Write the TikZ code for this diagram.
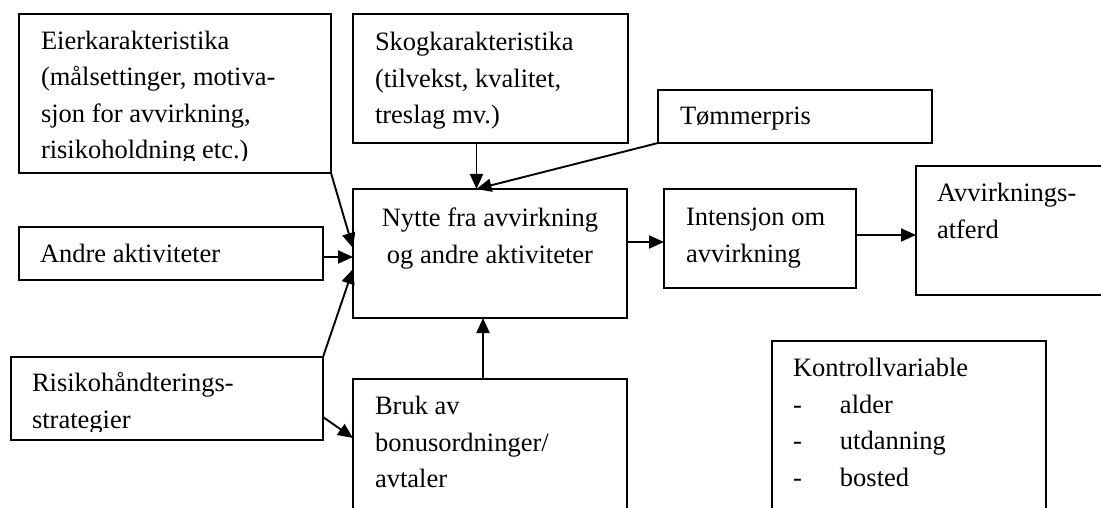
\documentclass[tikz,border=0pt]{standalone}
\usepackage{fontspec}
\setmainfont{Liberation Serif}
\usetikzlibrary{arrows.meta,calc}
\begin{document}
\begin{tikzpicture}[x=1pt,y=-1pt,
 box/.style={draw, line width=1.9pt, inner sep=0pt, outer sep=0pt, anchor=north west},
 txt/.style={inner sep=0pt, outer sep=0pt, anchor=north west, align=left, font=\fontsize{26.5}{36.4}\selectfont},
 arr/.style={line width=1.9pt, -{Triangle[length=15pt,width=13pt]}}]
\useasboundingbox (0,0) rectangle (1101,508);
\clip (0,0) rectangle (1101,508);
% boxes
\node[box, minimum width=312pt, minimum height=159pt] (eier) at (19,14) {};
\node[box, minimum width=275pt, minimum height=129pt] (skog) at (353,14) {};
\node[box, minimum width=274pt, minimum height=53pt] (tmr) at (658,90) {};
\node[box, minimum width=304pt, minimum height=53pt] (andre) at (19,227) {};
\node[box, minimum width=274pt, minimum height=129pt] (nytte) at (353,189) {};
\node[box, minimum width=192pt, minimum height=99pt] (int) at (664,189) {};
\node[box, minimum width=210pt, minimum height=129pt] (avv) at (916,166) {};
\node[box, minimum width=312pt, minimum height=83pt] (risiko) at (11,357) {};
\node[box, minimum width=274pt, minimum height=150pt] (bruk) at (353,379) {};
\node[box, minimum width=274pt, minimum height=190pt] (kontroll) at (772,341) {};
% texts
\begin{scope}
\clip (19,14) rectangle (331,161);
\node[txt] (eiert) at (41,24) {\strut Eierkarakteristika\\(målsettinger, motiva-\\sjon for avvirkning,\\risikoholdning etc.)};
\end{scope}
\node[txt] (skogt) at (375,25.5) {\strut Skogkarakteristika\\(tilvekst, kvalitet,\\treslag mv.)};
\node[txt] (tmrt) at (680,99.5) {\strut Tømmerpris};
\node[txt, anchor=north, align=center] (nyttet) at (490,201.5) {\strut Nytte fra avvirkning\\og andre aktiviteter};
\node[txt] (intt) at (686,200.5) {\strut Intensjon om\\avvirkning};
\node[txt] (avvt) at (937,176.5) {\strut Avvirknings-\\atferd};
\node[txt] (andret) at (40,237.5) {\strut Andre aktiviteter};
\begin{scope}
\clip (11,357) rectangle (323,431);
\node[txt] (risikot) at (32,366.5) {\strut Risikohåndterings-\\strategier};
\end{scope}
\node[txt] (brukt) at (375,389.5) {\strut Bruk av\\bonusordninger/\\avtaler};
\node[txt] (kontrollt) at (793,351.5) {\strut Kontrollvariable\\\makebox[47pt][l]{-}alder\\\makebox[47pt][l]{-}utdanning\\\makebox[47pt][l]{-}bosted};
% connectors
\coordinate (top) at ([xshift=-14pt]skog.south |- nytte.north);
\draw[arr] ([xshift=-14pt]skog.south) -- (top);
\draw[arr] (tmr.south west) -- (top);
\draw[arr] (eier.south east) -- ([yshift=-59pt]nytte.north west);
\draw[arr] ([yshift=-3.5pt]andre.east) -- ([yshift=-3.5pt]andre.east -| nytte.west);
\draw[arr] (risiko.north east) -- ([yshift=-80pt]nytte.north west);
\draw[arr] ([yshift=11.5pt]nytte.east) -- ([yshift=11.5pt]nytte.east -| int.west);
\draw[arr] ([yshift=3.5pt]int.east) -- ([yshift=3.5pt]int.east -| avv.west);
\draw[arr] ([xshift=-7pt]bruk.north) -- ([xshift=-7pt]bruk.north |- nytte.south);
\draw[arr] ([yshift=-18.5pt]risiko.east) -- ([yshift=-59pt]bruk.north west);
\end{tikzpicture}
\end{document}
